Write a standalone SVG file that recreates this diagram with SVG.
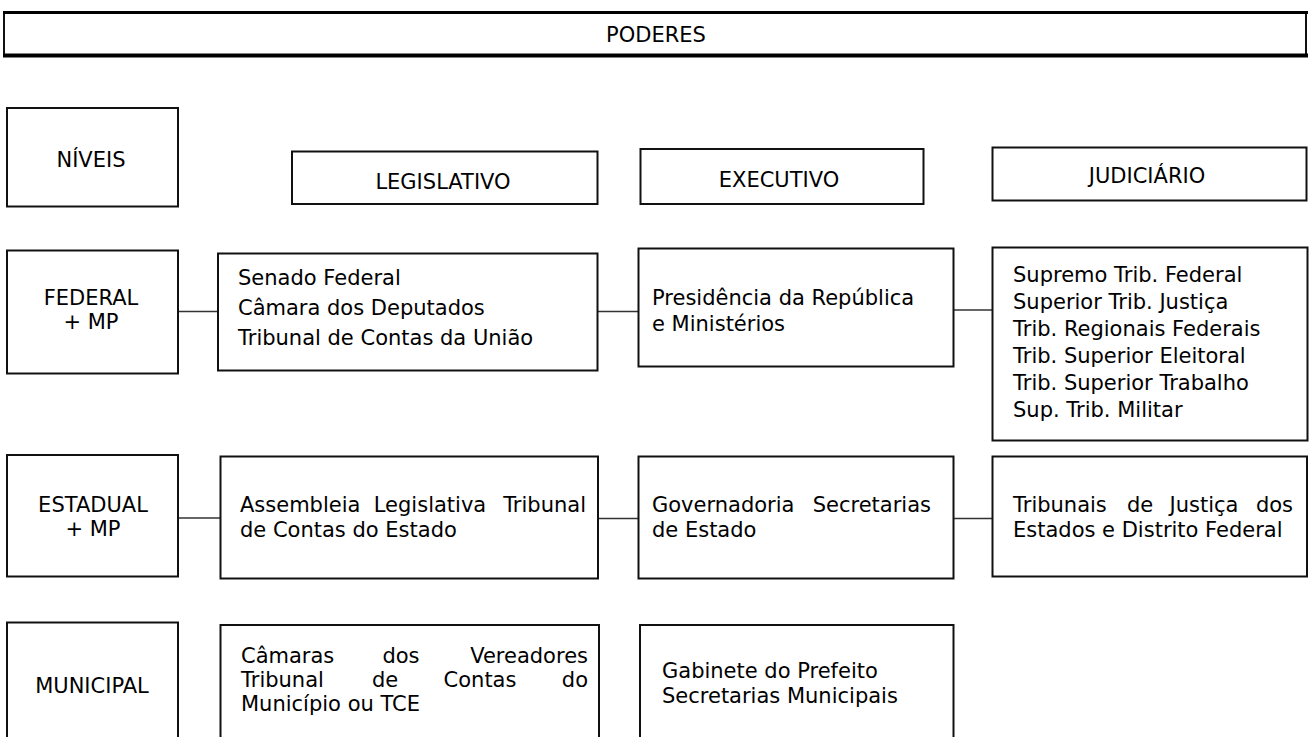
<svg xmlns="http://www.w3.org/2000/svg" width="1311" height="737" viewBox="0 0 1311 737">
<style>
  .box { fill: #fff; stroke: #111; stroke-width: 2; }
  .t { font-family: "DejaVu Sans", "Liberation Sans", sans-serif; font-size: 21px; fill: #000; }
  .c { text-anchor: middle; }
  .e { text-anchor: end; }
  .conn line { stroke: #333; stroke-width: 1.5; }
</style>
<rect width="1311" height="737" fill="#fff"/>

<g id="header">
  <rect x="4" y="12" width="1302" height="43" class="box"/>
  <line x1="3" y1="12.5" x2="1308" y2="12.5" stroke="#000" stroke-width="3"/>
  <line x1="3" y1="55.5" x2="1308" y2="55.5" stroke="#000" stroke-width="4"/>
  <text x="656" y="42" class="t c">PODERES</text>
</g>

<g id="niveis">
  <rect x="7" y="108" width="171" height="98.5" class="box"/>
  <text x="91" y="167" class="t c">NÍVEIS</text>
</g>
<g id="legislativo">
  <rect x="292" y="151.5" width="305.5" height="52.5" class="box"/>
  <text x="443" y="189" class="t c">LEGISLATIVO</text>
</g>
<g id="executivo">
  <rect x="640.5" y="149" width="283" height="55" class="box"/>
  <text x="779" y="187" class="t c">EXECUTIVO</text>
</g>
<g id="judiciario">
  <rect x="992.5" y="147.5" width="314" height="53" class="box"/>
  <text x="1147" y="183" class="t c">JUDICIÁRIO</text>
</g>

<g id="connectors" class="conn">
  <line x1="178" y1="311.5" x2="218" y2="311.5"/>
  <line x1="597" y1="311.5" x2="638" y2="311.5"/>
  <line x1="953" y1="310" x2="992" y2="310"/>
  <line x1="178" y1="518" x2="220" y2="518"/>
  <line x1="598" y1="518.5" x2="638.5" y2="518.5"/>
  <line x1="953.5" y1="518.5" x2="992" y2="518.5"/>
</g>

<g id="federal">
  <rect x="7" y="250.5" width="171" height="123" class="box"/>
  <text x="91" y="305" class="t c">FEDERAL</text>
  <text x="91" y="329" class="t c">+ MP</text>
</g>
<g id="leg-federal">
  <rect x="218" y="253.5" width="379.5" height="117" class="box"/>
  <text x="238" y="285" class="t">Senado Federal</text>
  <text x="238" y="315" class="t">Câmara dos Deputados</text>
  <text x="238" y="345" class="t">Tribunal de Contas da União</text>
</g>
<g id="exec-federal">
  <rect x="638.5" y="248.5" width="315" height="118" class="box"/>
  <text x="652" y="305" class="t">Presidência da República</text>
  <text x="652" y="331" class="t">e Ministérios</text>
</g>
<g id="jud-federal">
  <rect x="992.5" y="247.5" width="315" height="193" class="box"/>
  <text x="1013" y="282" class="t">Supremo Trib. Federal</text>
  <text x="1013" y="309" class="t">Superior Trib. Justiça</text>
  <text x="1013" y="336" class="t">Trib. Regionais Federais</text>
  <text x="1013" y="363" class="t">Trib. Superior Eleitoral</text>
  <text x="1013" y="390" class="t">Trib. Superior Trabalho</text>
  <text x="1013" y="417" class="t">Sup. Trib. Militar</text>
</g>

<g id="estadual">
  <rect x="7" y="455" width="171" height="121.5" class="box"/>
  <text x="93" y="512" class="t c">ESTADUAL</text>
  <text x="93" y="536" class="t c">+ MP</text>
</g>
<g id="leg-estadual">
  <rect x="220.5" y="456.5" width="377.5" height="122" class="box"/>
  <text y="512" class="t"><tspan x="240">Assembleia</tspan><tspan x="430" class="c">Legislativa</tspan><tspan x="586" class="e">Tribunal</tspan></text>
  <text x="240" y="537" class="t">de Contas do Estado</text>
</g>
<g id="exec-estadual">
  <rect x="638.5" y="456.5" width="315" height="122" class="box"/>
  <text y="512" class="t"><tspan x="652">Governadoria</tspan><tspan x="931" class="e">Secretarias</tspan></text>
  <text x="652" y="537" class="t">de Estado</text>
</g>
<g id="jud-estadual">
  <rect x="992.5" y="456.5" width="314.5" height="120" class="box"/>
  <text y="512" class="t"><tspan x="1013">Tribunais</tspan><tspan x="1140" class="c">de</tspan><tspan x="1204" class="c">Justiça</tspan><tspan x="1293" class="e">dos</tspan></text>
  <text x="1013" y="537" class="t">Estados e Distrito Federal</text>
</g>

<g id="municipal">
  <rect x="7" y="622.5" width="171" height="130" class="box"/>
  <text x="92" y="693" class="t c">MUNICIPAL</text>
</g>
<g id="leg-municipal">
  <rect x="220.5" y="625" width="378.5" height="130" class="box"/>
  <text y="663" class="t"><tspan x="241">Câmaras</tspan><tspan x="401" class="c">dos</tspan><tspan x="588" class="e">Vereadores</tspan></text>
  <text y="687" class="t"><tspan x="241">Tribunal</tspan><tspan x="385" class="c">de</tspan><tspan x="480" class="c">Contas</tspan><tspan x="588" class="e">do</tspan></text>
  <text x="241" y="711" class="t">Município ou TCE</text>
</g>
<g id="exec-municipal">
  <rect x="640" y="625" width="313.5" height="130" class="box"/>
  <text x="662" y="678" class="t">Gabinete do Prefeito</text>
  <text x="662" y="703" class="t">Secretarias Municipais</text>
</g>
</svg>
